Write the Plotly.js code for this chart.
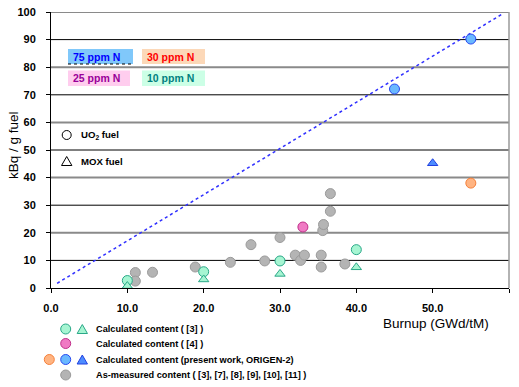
<!DOCTYPE html>
<html>
<head>
<meta charset="utf-8">
<script src="https://cdn.plot.ly/plotly-3.0.1.min.js"></script>
<style>html,body{margin:0;padding:0;background:#fff;}#chart{width:519px;height:387px;}</style>
</head>
<body>
<div id="chart"></div>
<script>
// ---- data ----
const calc3UO2X = [10, 20, 30, 40];
const calc3UO2Y = [2.7, 5.9, 9.8, 13.9];
const calc3MOXX = [10, 20, 30, 40];
const calc3MOXY = [0.7, 3.1, 5.1, 7.5];
const calc4X = [33];
const calc4Y = [22.1];
const presentUO2BlueX = [45, 55];
const presentUO2BlueY = [72.1, 90.2];
const presentUO2OrangeX = [55];
const presentUO2OrangeY = [38.0];
const presentMOXX = [50];
const presentMOXY = [45.2];
const measuredX = [11.05, 11.05, 13.3, 18.9, 23.5, 26.2, 28.0, 30.0, 32.0, 32.7, 33.2, 35.4, 35.4, 35.6, 35.7, 36.6, 36.6, 38.5];
const measuredY = [5.6, 2.5, 5.7, 7.6, 9.3, 15.7, 9.8, 18.3, 11.9, 10.0, 11.9, 11.9, 7.6, 20.8, 23.0, 27.8, 34.2, 8.7];
const fitX = [0.8, 59.2];
const fitY = [1.7, 99.4];
const xTicks = [0, 10, 20, 30, 40, 50, 60];
const yTicks = [0, 10, 20, 30, 40, 50, 60, 70, 80, 90, 100];
const legendLabels = [
  'Calculated content ( [3] )',
  'Calculated content ( [4] )',
  'Calculated content (present work, ORIGEN-2)',
  'As-measured content ( [3], [7], [8], [9], [10], [11] )'
];
const boxLabels = ['75 ppm N', '30 ppm N', '25 ppm N', '10 ppm N'];

// ---- styles ----
const FONT = 'Liberation Sans, Arial, sans-serif';
const C = {
  green: {fill: '#a6f5d2', line: '#2aa888'},
  pink: {fill: '#f07ac4', line: '#c0308a'},
  orange: {fill: '#ffb482', line: '#f5803a'},
  blue: {fill: '#6ab8ff', line: '#2848f0'},
  blueTri: {fill: '#4d8cff', line: '#2040e0'},
  gray: {fill: '#b4b4b4', line: '#9a9a9a'}
};
function mk(col, sym, size) {
  return {symbol: sym, size: size, color: col.fill, line: {color: col.line, width: 1}};
}

const traces = [
  {x: fitX, y: fitY, mode: 'lines', line: {color: '#3030ff', width: 1.5, dash: 'dot'}, hoverinfo: 'skip'},
  {x: measuredX, y: measuredY, mode: 'markers', marker: mk(C.gray, 'circle', 10)},
  {x: calc3UO2X, y: calc3UO2Y, mode: 'markers', marker: mk(C.green, 'circle', 10)},
  {x: calc3MOXX, y: calc3MOXY, mode: 'markers', marker: mk(C.green, 'triangle-up', 9)},
  {x: calc4X, y: calc4Y, mode: 'markers', marker: mk(C.pink, 'circle', 10)},
  {x: presentUO2BlueX, y: presentUO2BlueY, mode: 'markers', marker: mk(C.blue, 'circle', 10)},
  {x: presentUO2OrangeX, y: presentUO2OrangeY, mode: 'markers', marker: mk(C.orange, 'circle', 10)},
  {x: presentMOXX, y: presentMOXY, mode: 'markers', marker: mk(C.blueTri, 'triangle-up', 9)}
];
traces.forEach(t => { t.showlegend = false; t.cliponaxis = false; });

// pixel -> paper helpers (plot area: x 51..509, y 12..288)
const L = 51, R = 509, T = 12, B = 288;
const PX = p => (p - L) / (R - L);
const PY = p => (B - p) / (B - T);

const shapes = [];
const annotations = [];

// horizontal gridlines: alternating black / gray, at the y tick values
yTicks.filter(v => v > 0).forEach(v => {
  const even = (v % 20 === 0);
  shapes.push({
    type: 'line', xref: 'paper', yref: 'y', x0: 0, x1: 1, y0: v, y1: v,
    line: {color: even ? '#8a8a8a' : '#000', width: even ? 2 : 1}, layer: 'below'
  });
});
// right border
shapes.push({type: 'line', xref: 'paper', yref: 'paper', x0: 1, x1: 1, y0: 0, y1: 1,
  line: {color: '#9a9a9a', width: 1.5}, layer: 'below'});

// coloured text boxes
const boxes = [
  {x0: 68, x1: 133, y0: 49, y1: 64, bg: '#80c8fa', fg: '#0000ff'},
  {x0: 142, x1: 205, y0: 49, y1: 64, bg: '#fcd8b8', fg: '#ff0000'},
  {x0: 68, x1: 130, y0: 70.5, y1: 86, bg: '#ffcdee', fg: '#990099'},
  {x0: 142, x1: 205, y0: 70.5, y1: 86, bg: '#ccffe6', fg: '#008080'}
];
boxes.forEach((b, i) => {
  shapes.push({type: 'rect', xref: 'paper', yref: 'paper', x0: PX(b.x0), x1: PX(b.x1), y0: PY(b.y1), y1: PY(b.y0),
    fillcolor: b.bg, line: {width: 0}, layer: 'below'});
  annotations.push({xref: 'paper', yref: 'paper', x: PX(b.x0 + 3), y: PY((b.y0 + b.y1) / 2), xanchor: 'left', yanchor: 'middle',
    text: boxLabels[i], showarrow: false, font: {family: FONT, size: 10.5, color: b.fg, weight: 'bold'}});
});
shapes.push({type: 'line', xref: 'paper', yref: 'paper', x0: PX(68), x1: PX(131), y0: PY(64), y1: PY(64),
  line: {color: '#000', width: 1, dash: 'dot'}});

// fuel type keys
function circ(cx, cy, r, fill, line) {
  shapes.push({type: 'circle', xref: 'paper', yref: 'paper', x0: PX(cx - r), x1: PX(cx + r), y0: PY(cy + r), y1: PY(cy - r),
    fillcolor: fill, line: {color: line, width: 1}});
}
function tri(cx, cy, h, fill, line) {
  const w = h * 1.15;
  shapes.push({type: 'path', xref: 'paper', yref: 'paper',
    path: `M ${PX(cx - w / 2)},${PY(cy + h / 2)} L ${PX(cx + w / 2)},${PY(cy + h / 2)} L ${PX(cx)},${PY(cy - h / 2)} Z`,
    fillcolor: fill, line: {color: line, width: 1}});
}
circ(66.7, 135, 4.5, 'rgba(0,0,0,0)', '#000');
tri(66.7, 161, 9, 'rgba(0,0,0,0)', '#000');
annotations.push({xref: 'paper', yref: 'paper', x: PX(79), y: PY(135), xanchor: 'left', yanchor: 'middle', showarrow: false,
  text: 'UO<sub>2</sub> fuel', font: {family: FONT, size: 9.6, color: '#000', weight: 'bold'}});
annotations.push({xref: 'paper', yref: 'paper', x: PX(79), y: PY(161), xanchor: 'left', yanchor: 'middle', showarrow: false,
  text: 'MOX fuel', font: {family: FONT, size: 9.6, color: '#000', weight: 'bold'}});

// bottom legend
const rows = [329, 343.5, 359.5, 375];
circ(65.7, rows[0], 5, C.green.fill, C.green.line);
tri(82.3, rows[0], 9, C.green.fill, C.green.line);
circ(65.7, rows[1], 5, C.pink.fill, C.pink.line);
circ(49.3, rows[2], 5, C.orange.fill, C.orange.line);
circ(65.7, rows[2], 5, C.blue.fill, C.blue.line);
tri(82.3, rows[2], 9, C.blueTri.fill, C.blueTri.line);
circ(65.7, rows[3], 5, C.gray.fill, C.gray.line);
legendLabels.forEach((t, i) => annotations.push({xref: 'paper', yref: 'paper', x: PX(94), y: PY(rows[i]),
  xanchor: 'left', yanchor: 'middle', showarrow: false, text: t, font: {family: FONT, size: 9.2, color: '#000', weight: 'bold'}}));

// axis titles
annotations.push({xref: 'paper', yref: 'paper', x: PX(13), y: PY(145), xanchor: 'center', yanchor: 'middle', showarrow: false,
  textangle: -90, text: 'kBq / g fuel', font: {family: FONT, size: 13.5, color: '#000'}});
annotations.push({xref: 'paper', yref: 'paper', x: PX(436), y: PY(323), xanchor: 'center', yanchor: 'middle', showarrow: false,
  text: 'Burnup (GWd/tM)', font: {family: FONT, size: 13.5, color: '#000'}});

const layout = {
  width: 519, height: 387,
  margin: {l: L, r: 519 - R, t: T, b: 387 - B, pad: 0},
  paper_bgcolor: '#fff', plot_bgcolor: '#fff',
  showlegend: false,
  font: {family: FONT, color: '#000'},
  xaxis: {
    range: [0, 60], tickvals: xTicks, ticktext: xTicks.map(v => v.toFixed(1)),
    showgrid: false, zeroline: false, showline: true, linecolor: '#000', linewidth: 1,
    ticks: 'outside', ticklen: 4, tickcolor: '#000', tickwidth: 1,
    ticklabelstandoff: 6,
    tickfont: {family: FONT, size: 11, color: '#000', weight: 'bold'}, fixedrange: true
  },
  yaxis: {
    range: [0, 100], tickvals: yTicks, ticktext: yTicks.map(String),
    showgrid: false,
    zeroline: false, showline: true, linecolor: '#000', linewidth: 1,
    ticks: 'outside', ticklen: 4, tickcolor: '#000', tickwidth: 1,
    ticklabelstandoff: 8,
    tickfont: {family: FONT, size: 11, color: '#000', weight: 'bold'}, fixedrange: true
  },
  shapes: shapes,
  annotations: annotations
};

Plotly.newPlot('chart', traces, layout, {displayModeBar: false, staticPlot: true});
</script>
</body>
</html>
